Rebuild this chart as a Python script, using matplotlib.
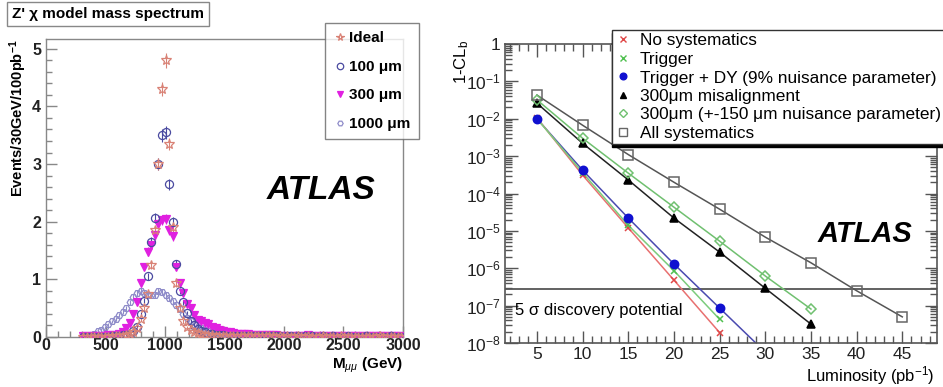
import numpy as np
import matplotlib
matplotlib.use("Agg")
import matplotlib.pyplot as plt
from matplotlib.lines import Line2D
from matplotlib.ticker import MultipleLocator, LogLocator, NullFormatter

plt.rcParams['font.family'] = ['Liberation Sans', 'DejaVu Sans']
plt.rcParams['mathtext.fontset'] = 'custom'
plt.rcParams['mathtext.rm'] = 'Liberation Sans'
plt.rcParams['mathtext.it'] = 'Liberation Sans:italic'
plt.rcParams['mathtext.bf'] = 'Liberation Sans:bold'

# ---- left panel: Z' mass spectrum, 30 GeV bins from 300 to 3000 GeV ----
mass_bins = np.arange(315, 3000, 30)

ideal = [0, 0, 0, 0, 0, 0, 0, 0, 0.01, 0.01,
         0.01, 0.02, 0.03, 0.05, 0.08, 0.15, 0.32, 0.5, 0.75, 1.25,
         1.85, 3.0, 4.3, 4.8, 3.35, 1.9, 0.93, 0.5, 0.28, 0.17,
         0.12, 0.09, 0.07, 0.05, 0.04, 0.03, 0.03, 0.02, 0.02, 0.02,
         0.02, 0.01, 0.01, 0.01, 0.01, 0.01, 0.01, 0.01, 0.01, 0.01,
         0.01, 0.01, 0.01, 0.01, 0.0, 0.01, 0.0, 0.01, 0.0, 0.0,
         0.01, 0.0, 0.0, 0.01, 0.0, 0.0, 0.0, 0.01, 0.0, 0.0,
         0.0, 0.0, 0.01, 0.0, 0.0, 0.0, 0.0, 0.0, 0.0, 0.0,
         0.0, 0.0, 0.0, 0.02, 0.0, 0.0, 0.0, 0.0, 0.0, 0.0]

um100 = [0, 0, 0, 0, 0, 0, 0, 0, 0.01, 0.01,
         0.02, 0.03, 0.04, 0.06, 0.1, 0.18, 0.4, 0.63, 1.05, 1.65,
         2.07, 3.0, 3.5, 3.55, 2.65, 2.0, 1.27, 0.8, 0.6, 0.42,
         0.28, 0.2, 0.14, 0.1, 0.08, 0.06, 0.05, 0.04, 0.03, 0.03,
         0.02, 0.02, 0.02, 0.02, 0.01, 0.01, 0.01, 0.01, 0.01, 0.01,
         0.01, 0.01, 0.01, 0.01, 0.01, 0.01, 0.0, 0.01, 0.01, 0.0,
         0.01, 0.0, 0.01, 0.0, 0.01, 0.0, 0.0, 0.01, 0.0, 0.0,
         0.01, 0.0, 0.0, 0.0, 0.01, 0.0, 0.0, 0.0, 0.0, 0.01,
         0.0, 0.0, 0.0, 0.0, 0.0, 0.0, 0.01, 0.0, 0.0, 0.0]

um300 = [0.02, 0.02, 0.02, 0.02, 0.02, 0.02, 0.02, 0.03, 0.03, 0.04,
         0.05, 0.08, 0.15, 0.25, 0.4, 0.6, 0.93, 1.22, 1.48, 1.6,
         1.77, 1.96, 2.03, 2.05, 1.85, 1.75, 1.22, 0.93, 0.76, 0.58,
         0.5, 0.38, 0.3, 0.27, 0.25, 0.22, 0.18, 0.15, 0.12, 0.1,
         0.09, 0.08, 0.07, 0.06, 0.06, 0.05, 0.05, 0.04, 0.04, 0.04,
         0.03, 0.03, 0.03, 0.03, 0.03, 0.02, 0.02, 0.02, 0.02, 0.02,
         0.02, 0.02, 0.02, 0.03, 0.02, 0.02, 0.02, 0.02, 0.02, 0.02,
         0.02, 0.01, 0.02, 0.02, 0.01, 0.02, 0.01, 0.02, 0.01, 0.01,
         0.01, 0.02, 0.01, 0.01, 0.01, 0.01, 0.01, 0.02, 0.01, 0.01]

um1000 = [0, 0, 0.03, 0.06, 0.1, 0.13, 0.17, 0.22, 0.27, 0.32,
          0.38, 0.44, 0.5, 0.6, 0.7, 0.76, 0.79, 0.77, 0.73, 0.72,
          0.73, 0.8, 0.78, 0.73, 0.68, 0.62, 0.55, 0.48, 0.4, 0.33,
          0.27, 0.22, 0.18, 0.15, 0.12, 0.1, 0.09, 0.08, 0.07, 0.06,
          0.05, 0.05, 0.04, 0.04, 0.04, 0.03, 0.03, 0.03, 0.03, 0.03,
          0.02, 0.02, 0.03, 0.02, 0.02, 0.02, 0.02, 0.02, 0.02, 0.02,
          0.02, 0.02, 0.01, 0.02, 0.02, 0.01, 0.02, 0.01, 0.02, 0.01,
          0.01, 0.02, 0.01, 0.01, 0.01, 0.02, 0.01, 0.01, 0.01, 0.01,
          0.01, 0.01, 0.01, 0.01, 0.01, 0.02, 0.01, 0.01, 0.01, 0.01]

# ---- right panel: 1-CL_b vs luminosity ----
lumi_short = [5, 10, 15, 20, 25]
lumi_mid = [5, 10, 15, 20, 25, 30, 35]
lumi_long = [5, 10, 15, 20, 25, 30, 35, 40, 45]

no_syst = [1.05e-2, 3.1e-4, 1.2e-5, 4.8e-7, 1.9e-8]
trigger = [1.0e-2, 3.6e-4, 1.4e-5, 8.6e-7, 4.3e-8]
trigger_dy = [1.0e-2, 4.2e-4, 2.2e-5, 1.3e-6, 8.6e-8]
misalign = [2.6e-2, 2.2e-3, 2.3e-4, 2.2e-5, 2.7e-6, 2.9e-7, 3.2e-8]
nuis150 = [3.2e-2, 3.0e-3, 3.5e-4, 4.3e-5, 5.3e-6, 6.2e-7, 8.1e-8]
all_syst = [4.3e-2, 6.7e-3, 1.1e-3, 2.0e-4, 3.8e-5, 6.8e-6, 1.4e-6, 2.5e-7, 5.0e-8]
discovery_5sigma = 2.87e-7

log_ticks = [1e-8, 1e-7, 1e-6, 1e-5, 1e-4, 1e-3, 1e-2, 1e-1, 1]
log_tick_labels = ['$10^{-8}$', '$10^{-7}$', '$10^{-6}$', '$10^{-5}$', '$10^{-4}$',
                   '$10^{-3}$', '$10^{-2}$', '$10^{-1}$', '1']

fig = plt.figure(figsize=(9.43, 3.87), dpi=100)
fig.patch.set_facecolor('white')
W, H = 943.0, 387.0

# ================= left panel =================
axl = fig.add_axes([46 / W, 1 - 337 / H, 357 / W, 298 / H])
axl.set_xlim(0, 3000)
axl.set_ylim(0, 5.17)

styles = [
    (um1000, '1000 μm', 'H', 'none', '#8f8cc9', 4.8),
    (um300, '300 μm', 'v', '#e020e0', '#e020e0', 5.2),
    (um100, '100 μm', 'o', 'none', '#4a4aa0', 5.8),
    (ideal, 'Ideal', '*', 'none', '#d98276', 7),
]
handles = {}
for vals, lab, mk, fc, ec, ms in styles:
    v = np.array(vals, dtype=float)
    err = 0.06 * np.sqrt(v)
    axl.errorbar(mass_bins, v, yerr=err, fmt='none', ecolor=ec, elinewidth=0.8,
                 capsize=0, zorder=2)
    axl.plot(mass_bins, v, ls='none', marker=mk, mfc=fc, mec=ec, ms=ms,
             mew=0.9, zorder=3)
    handles[lab] = Line2D([], [], ls='none', marker=mk, mfc=fc, mec=ec,
                          ms=ms * 0.8, mew=0.9)

for sp in axl.spines.values():
    sp.set_color('#888888')
    sp.set_linewidth(1.0)
axl.tick_params(direction='in', which='both', top=False, right=False,
                labelsize=11.5, colors='#888888', labelcolor='#222222', width=1)
axl.tick_params(which='major', length=8)
axl.tick_params(which='minor', length=4)
axl.xaxis.set_major_locator(MultipleLocator(500))
axl.xaxis.set_minor_locator(MultipleLocator(100))
axl.yaxis.set_major_locator(MultipleLocator(1))
axl.yaxis.set_minor_locator(MultipleLocator(0.2))
for t in axl.get_xticklabels() + axl.get_yticklabels():
    t.set_fontweight('bold')
axl.tick_params(axis='x', pad=1)

fig.text(18 / W, 1 - 40 / H, r'Events/30GeV/100pb$^{\mathbf{-1}}$', fontsize=10.5,
         fontweight='bold', rotation=90, ha='center', va='top')
fig.text(403 / W, 1 - 365 / H, r'M$_{\mu\mu}$ (GeV)', fontsize=11,
         fontweight='bold', ha='right', va='center')

axl.text(0.77, 0.493, 'ATLAS', transform=axl.transAxes, fontsize=24,
         fontweight='bold', fontstyle='italic', ha='center', va='center')

order = ['Ideal', '100 μm', '300 μm', '1000 μm']
legl = fig.legend([handles[k] for k in order], order, loc='upper left',
                  bbox_to_anchor=(325 / W, 1 - 23 / H), frameon=True,
                  fancybox=False, edgecolor='#666666', prop={'weight': 'bold', 'size': 11},
                  handletextpad=0.25, handlelength=0.8, labelspacing=0.95,
                  borderpad=0.55, borderaxespad=0)
legl.get_frame().set_linewidth(1.0)

fig.text(12 / W, 1 - 14 / H, "Z' χ model mass spectrum", fontsize=11,
         fontweight='bold', ha='left', va='center',
         bbox=dict(boxstyle='square,pad=0.3', fc='white', ec='#888888', lw=1))

# ================= right panel =================
axr = fig.add_axes([505 / W, 1 - 343 / H, 432 / W, 299 / H])
axr.set_yscale('log')
axr.set_xlim(1.5, 48.8)
axr.set_ylim(1e-8, 1)

axr.axhline(discovery_5sigma, color='#555555', lw=1.3, zorder=1)

# extrapolate the last segment of the Trigger+DY curve down to the frame
ld = np.log10(trigger_dy)
slope = (ld[-1] - ld[-2]) / (lumi_short[-1] - lumi_short[-2])
x_end = lumi_short[-1] + (np.log10(1e-8) - ld[-1]) / slope
axr.plot(lumi_short + [x_end], trigger_dy + [1e-8], color='#4a4ab0', lw=1.1, zorder=2)

series = [
    (lumi_short, no_syst, 'No systematics', 'x', '#e04848', '#e04848', '#e87070', 5),
    (lumi_short, trigger, 'Trigger', 'x', '#50c050', '#50c050', '#7ccc7c', 5),
    (lumi_short, trigger_dy, 'Trigger + DY (9% nuisance parameter)', 'o', '#1010d0', '#1010d0', None, 6),
    (lumi_mid, misalign, '300μm misalignment', '^', 'black', 'black', '#222222', 5.5),
    (lumi_mid, nuis150, '300μm (+-150 μm nuisance parameter)', 'D', 'none', '#70c070', '#70c070', 5),
    (lumi_long, all_syst, 'All systematics', 's', 'none', '#666666', '#555555', 6.5),
]
leg_handles = []
for xs, ys, lab, mk, fc, ec, lc, ms in series:
    if lc is not None:
        axr.plot(xs, ys, color=lc, lw=1.1, zorder=2)
    axr.plot(xs, ys, ls='none', marker=mk, mfc=fc, mec=ec, ms=ms, mew=1.1, zorder=3)
    leg_handles.append(Line2D([], [], ls='none', marker=mk, mfc=fc, mec=ec,
                              ms=ms * 0.8, mew=1.0, label=lab))

for sp in axr.spines.values():
    sp.set_color('#555555')
    sp.set_linewidth(1.2)
axr.tick_params(direction='in', which='both', top=True, right=True,
                labelsize=12.5, colors='#555555', labelcolor='#222222', width=1)
axr.tick_params(which='major', length=9)
axr.tick_params(which='minor', length=5)
axr.xaxis.set_major_locator(MultipleLocator(5))
axr.xaxis.set_minor_locator(MultipleLocator(1))
axr.set_yticks(log_ticks, log_tick_labels)
axr.yaxis.set_minor_locator(LogLocator(base=10, subs=np.arange(2, 10) * 1.0, numticks=20))
axr.yaxis.set_minor_formatter(NullFormatter())
axr.tick_params(axis='x', pad=3)
axr.tick_params(axis='y', pad=3)

fig.text(462 / W, 1 - 40 / H, r'1-CL$_{\rm b}$', fontsize=12, rotation=90,
         ha='center', va='top')
fig.text(935 / W, 1 - 376 / H, 'Luminosity (pb$^{-1}$)', fontsize=12,
         ha='right', va='center')

axr.text(0.023, 0.11, '5 σ discovery potential', transform=axr.transAxes,
         fontsize=12, ha='left', va='center')
axr.text(0.833, 0.365, 'ATLAS', transform=axr.transAxes, fontsize=21,
         fontweight='bold', fontstyle='italic', ha='center', va='center')

legr = fig.legend(handles=leg_handles, loc='upper left',
                  bbox_to_anchor=(612 / W, 1 - 30 / H), frameon=True,
                  fancybox=False, edgecolor='#333333', fontsize=12.4,
                  handletextpad=0.5, handlelength=0.9, labelspacing=0.2,
                  borderpad=0.2, borderaxespad=0,
                  shadow={'ox': 0, 'oy': -2, 'color': 'black', 'alpha': 1})
legr.get_frame().set_linewidth(1.0)
legr.set_zorder(10)

fig.savefig('out.png', dpi=100, facecolor='white')
